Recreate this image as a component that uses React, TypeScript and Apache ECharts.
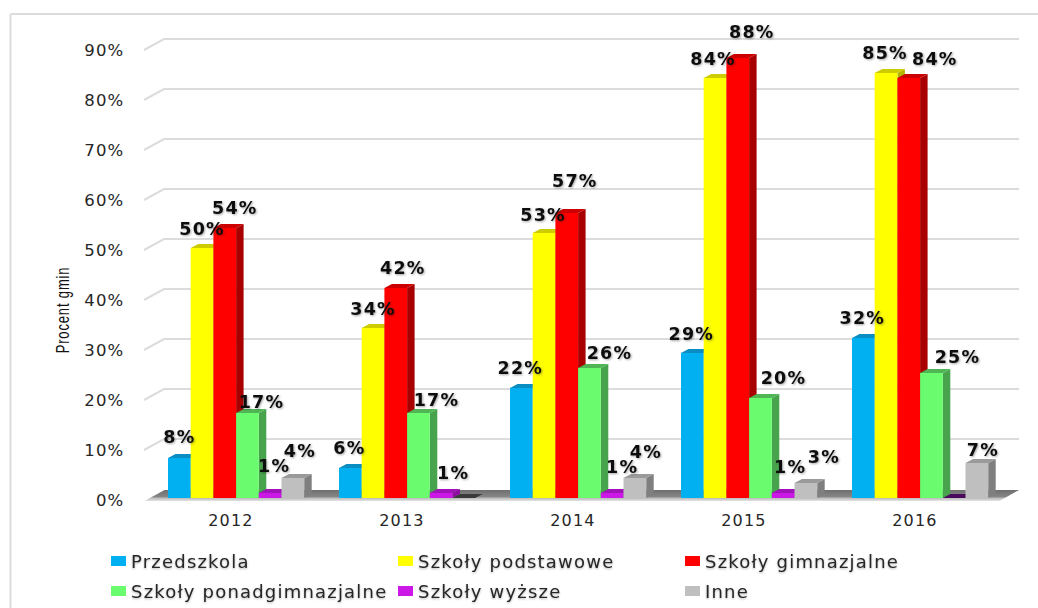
import React, { useEffect, useRef } from "react";
import * as echarts from "echarts";

const categories = ["2012", "2013", "2014", "2015", "2016"];
const seriesNames = ["Przedszkola", "Szkoły podstawowe", "Szkoły gimnazjalne", "Szkoły ponadgimnazjalne", "Szkoły wyższe", "Inne"];
const przedszkola = [8, 6, 22, 29, 32];
const podstawowe = [50, 34, 53, 84, 85];
const gimnazjalne = [54, 42, 57, 88, 84];
const ponadgimnazjalne = [17, 17, 26, 20, 25];
const wyzsze = [1, 1, 1, 1, 0];
const inne = [4, 0, 4, 3, 7];
const seriesValues = [przedszkola, podstawowe, gimnazjalne, ponadgimnazjalne, wyzsze, inne];
const yTicks = [10, 20, 30, 40, 50, 60, 70, 80, 90];

// Styling and label placement (pixels relative to the top of each bar)
const frontColors = ["#00B0F0", "#FFFF00", "#FF0000", "#6BFB6E", "#CC18E6", "#BFBFBF"];
const topColors = ["#0A8DC2", "#CCCC00", "#CC0000", "#4FB555", "#A112B8", "#9A9A9A"];
const sideColors = ["#0A86B5", "#B3B300", "#A80000", "#47A34C", "#8C0FA0", "#7F7F7F"];
const zeroColors = ["#333", "#333", "#333", "#333", "#4A0A5C", "#3A3A3A"];
const labelOffsets = [
  [[0, -21], [-1, -20], [-1, -20], [-1, -19], [-1, -20]],
  [[0, -19], [0, -19], [-1, -18], [-2, -19], [-1, -20]],
  [[10, -20], [7, -20], [8, -32], [14, -26], [26, -19]],
  [[14, -11], [18, -13], [20, -15], [23, -20], [26, -16]],
  [[4, -27], [12, -20], [10, -26], [7, -26], [0, 0]],
  [[7, -27], [0, 0], [11, -26], [18, -26], [6, -13]],
];

const BAR_W = 22.7;
const GROUP_OFFSET = -63;
const DEPTH_X = 7.5;
const DEPTH_Y = 4;
const FONT = '"DejaVu Sans", sans-serif';
const TEXT = "#262626";

export default function App() {
  const ref = useRef<HTMLDivElement>(null);
  useEffect(() => {
    document.body.style.margin = "0";
    const chart = echarts.init(ref.current!, null, { renderer: "svg" });

    const wallSeries: any = {
      type: "custom",
      name: "wall",
      z: 1,
      silent: true,
      data: yTicks.map((t) => [0, t]),
      encode: { x: 0, y: 1 },
      renderItem: (params: any, api: any) => {
        const cs = params.coordSys;
        const y = api.coord([0, api.value(1)])[1];
        return {
          type: "polyline",
          shape: { points: [[cs.x - 1.5, y + 2], [cs.x + 18.5, y - 9], [cs.x + cs.width + 18.5, y - 9]] },
          style: { stroke: "#DCDCDC", lineWidth: 2, fill: "none" },
        };
      },
    };

    const floorSeries: any = {
      type: "custom",
      name: "floor",
      z: 2,
      silent: true,
      data: [[0, 0]],
      encode: { x: 0, y: 1 },
      renderItem: (params: any, api: any) => {
        const cs = params.coordSys;
        const y = api.coord([0, 0])[1];
        return {
          type: "polygon",
          shape: {
            points: [[cs.x - 1, y + 3], [cs.x + 19, y - 8], [cs.x + cs.width + 18.5, y - 8], [cs.x + cs.width - 1, y + 3]],
          },
          style: {
            fill: {
              type: "linear", x: 0, y: 0, x2: 0, y2: 1,
              colorStops: [
                { offset: 0, color: "#6F6F6F" },
                { offset: 0.6, color: "#858585" },
                { offset: 0.75, color: "#BDBDBD" },
                { offset: 1, color: "#E4E4E4" },
              ],
            },
          },
        };
      },
    };

    const barSeries: any[] = seriesNames.map((name, j) => ({
      type: "custom",
      name,
      z: 3,
      silent: true,
      itemStyle: { color: frontColors[j] },
      data: seriesValues[j].map((v, i) => [i, v]),
      encode: { x: 0, y: 1 },
      renderItem: (_p: any, api: any) => {
        const v = api.value(1);
        const [cx, top] = api.coord([api.value(0), v]);
        const [, base] = api.coord([api.value(0), 0]);
        const x = cx + GROUP_OFFSET + j * BAR_W;
        const w = BAR_W;
        const topPoly = [[x, top], [x + DEPTH_X, top - DEPTH_Y], [x + w + DEPTH_X, top - DEPTH_Y], [x + w, top]];
        if (v === 0) {
          return { type: "polygon", shape: { points: topPoly }, style: { fill: zeroColors[j] } };
        }
        return {
          type: "group",
          children: [
            {
              type: "polygon",
              shape: { points: [[x + w, top], [x + w + DEPTH_X, top - DEPTH_Y], [x + w + DEPTH_X, base - DEPTH_Y], [x + w, base]] },
              style: { fill: sideColors[j] },
            },
            { type: "polygon", shape: { points: topPoly }, style: { fill: topColors[j] } },
            { type: "rect", shape: { x, y: top, width: w, height: base - top }, style: { fill: frontColors[j] } },
          ],
        };
      },
    }));

    const labelSeries: any[] = seriesNames.map((name, j) => ({
      type: "custom",
      name: name + " etykiety",
      z: 5,
      silent: true,
      data: seriesValues[j].map((v, i) => [i, v]).filter((d) => d[1] !== 0),
      encode: { x: 0, y: 1 },
      renderItem: (_p: any, api: any) => {
        const i = api.value(0);
        const v = api.value(1);
        const [cx, top] = api.coord([i, v]);
        const [dx, dy] = labelOffsets[j][i];
        return {
          type: "text",
          x: cx + GROUP_OFFSET + (j + 0.5) * BAR_W + dx,
          y: top + dy,
          style: {
            text: `${v}%`,
            font: `bold 17.5px ${FONT}`,
            fill: "#111",
            align: "center",
            verticalAlign: "middle",
            textShadowColor: "rgba(0,0,0,0.35)",
            textShadowBlur: 2,
            textShadowOffsetX: 1,
            textShadowOffsetY: 1,
          },
        };
      },
    }));

    const legendBase = {
      orient: "vertical",
      top: 552,
      padding: 0,
      icon: "rect",
      itemWidth: 15,
      itemHeight: 10,
      itemGap: 12,
      selectedMode: false,
      textStyle: {
        fontFamily: FONT,
        fontSize: 18,
        color: TEXT,
        textShadowColor: "rgba(0,0,0,0.3)",
        textShadowBlur: 2,
        textShadowOffsetY: 1,
      },
    };

    chart.setOption({
      animation: false,
      backgroundColor: "#fff",
      grid: { left: 145.5, right: 37.5, top: 48, bottom: 110 },
      xAxis: {
        type: "category",
        data: categories,
        axisLine: { show: false },
        axisTick: { show: false },
        axisLabel: { fontFamily: FONT, fontSize: 16, color: TEXT, margin: 14 },
      },
      yAxis: {
        type: "value",
        min: 0,
        max: 90,
        interval: 10,
        axisLine: { show: false },
        axisTick: { show: false },
        splitLine: { show: false },
        axisLabel: {
          fontFamily: FONT,
          fontSize: 16.5,
          color: TEXT,
          margin: 21,
          verticalAlign: "top",
          lineHeight: 4,
          formatter: "{value}%",
        },
      },
      legend: [
        { ...legendBase, left: 111, data: [seriesNames[0], seriesNames[3]] },
        { ...legendBase, left: 398, data: [seriesNames[1], seriesNames[4]] },
        { ...legendBase, left: 685, data: [seriesNames[2], seriesNames[5]] },
      ],
      graphic: [
        { type: "line", shape: { x1: 10.5, y1: 14, x2: 1038, y2: 14 }, style: { stroke: "#DCDCDC", lineWidth: 2 } },
        { type: "line", shape: { x1: 10.5, y1: 14, x2: 10.5, y2: 608 }, style: { stroke: "#DCDCDC", lineWidth: 2 } },
        {
          type: "text",
          x: 63,
          y: 310,
          rotation: Math.PI / 2,
          scaleX: 0.72,
          style: {
            text: "Procent gmin",
            font: '18px "Liberation Sans", sans-serif',
            fill: "#111",
            align: "center",
            verticalAlign: "middle",
          },
        },
      ],
      series: [wallSeries, floorSeries, ...barSeries, ...labelSeries],
    });

    return () => chart.dispose();
  }, []);

  return <div ref={ref} style={{ width: 1038, height: 608, letterSpacing: "1.2px" }} />;
}
